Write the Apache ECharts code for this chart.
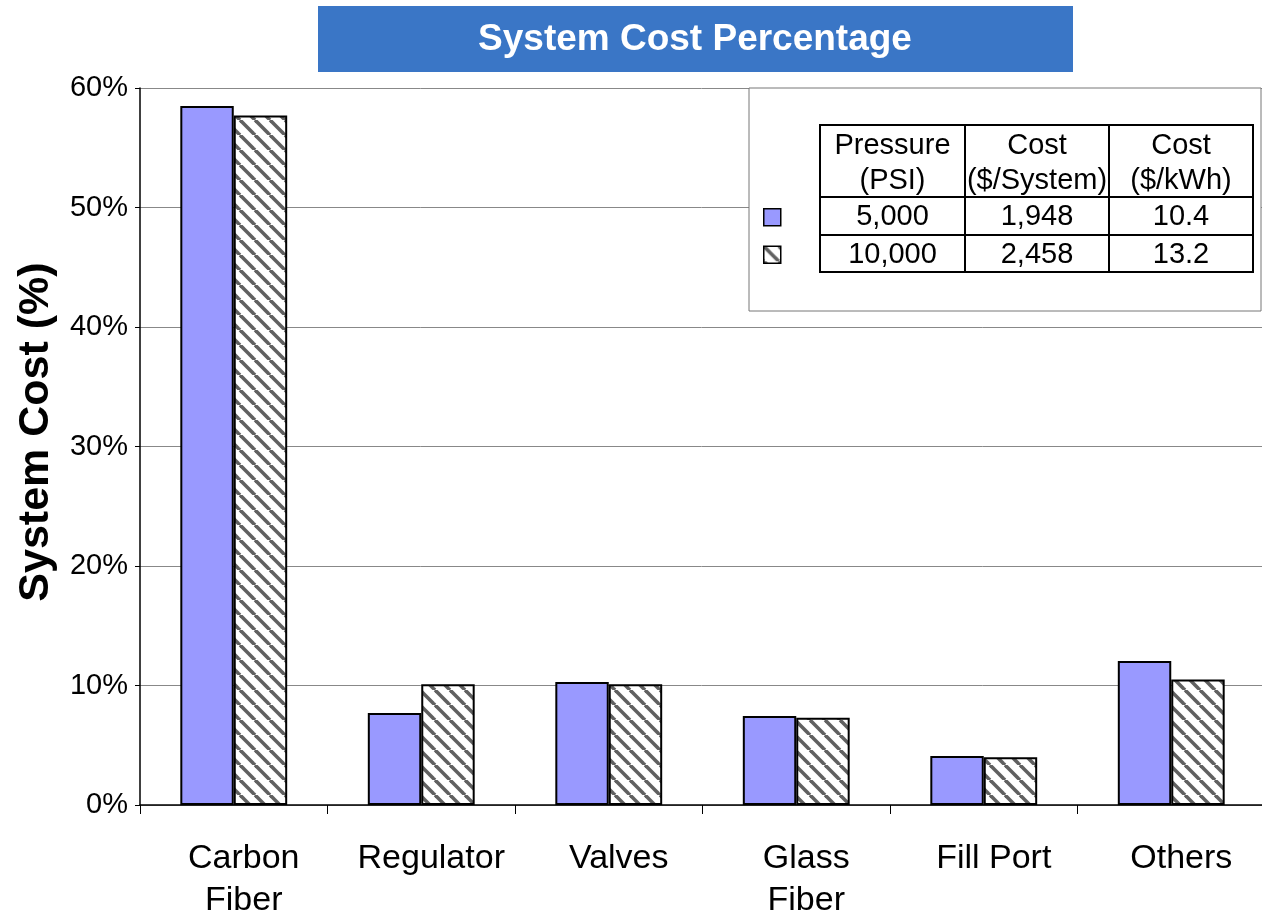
<!DOCTYPE html>
<html>
<head>
<meta charset="utf-8">
<script src="https://cdn.jsdelivr.net/npm/echarts@6/dist/echarts.min.js"></script>
<style>
  html, body { margin: 0; padding: 0; background: #fff; }
  #chart { width: 1262px; height: 916px; }
</style>
</head>
<body>
<div id="chart"></div>
<script>
const categories = ["Carbon\nFiber", "Regulator", "Valves", "Glass\nFiber", "Fill Port", "Others"];
const psi5000 = [58.5, 7.7, 10.3, 7.45, 4.1, 12.05];
const psi10000 = [57.7, 10.1, 10.1, 7.3, 4.0, 10.5];
const seriesNames = ["5,000 PSI", "10,000 PSI"];
const tableHeader = [["Pressure", "(PSI)"], ["Cost", "($/System)"], ["Cost", "($/kWh)"]];
const tableRows = [["5,000", "1,948", "10.4"], ["10,000", "2,458", "13.2"]];

const FONT = "Liberation Sans, Arial, sans-serif";

// diagonal hatch tile for the 10,000 psi bars
const makeHatch = () => {
  const size = 15;
  const c = document.createElement("canvas");
  c.width = size; c.height = size;
  const ctx = c.getContext("2d");
  ctx.fillStyle = "#fff";
  ctx.fillRect(0, 0, size, size);
  ctx.strokeStyle = "#606060";
  ctx.lineWidth = 3.6;
  for (const off of [-size, 0, size]) {
    ctx.beginPath();
    ctx.moveTo(off, 0);
    ctx.lineTo(off + size, size);
    ctx.stroke();
  }
  return c;
};

// legend table drawn as graphic elements
const colX = [820, 965, 1109, 1253];
const rowY = [125, 197, 235, 272];
const tableGraphics = [];
tableGraphics.push({ type: "rect", shape: { x: 749, y: 88, width: 512, height: 223 }, style: { fill: "#fff", stroke: "#777", lineWidth: 1 }, z: 10 });
for (let c = 0; c < 3; c++) {
  for (let r = 0; r < 3; r++) {
    tableGraphics.push({ type: "rect", shape: { x: colX[c], y: rowY[r], width: colX[c + 1] - colX[c], height: rowY[r + 1] - rowY[r] }, style: { fill: "none", stroke: "#000", lineWidth: 2 }, z: 11 });
  }
  const cx = (colX[c] + colX[c + 1]) / 2;
  tableGraphics.push({ type: "text", x: cx, y: 146, style: { text: tableHeader[c][0], font: "29px " + FONT, fill: "#000", align: "center", verticalAlign: "middle" }, z: 12 });
  tableGraphics.push({ type: "text", x: cx, y: 181, style: { text: tableHeader[c][1], font: "29px " + FONT, fill: "#000", align: "center", verticalAlign: "middle" }, z: 12 });
  tableRows.forEach((row, i) => {
    tableGraphics.push({ type: "text", x: cx, y: (rowY[i + 1] + rowY[i + 2]) / 2 + 1, style: { text: row[c], font: "29px " + FONT, fill: "#000", align: "center", verticalAlign: "middle" }, z: 12 });
  });
}

const chart = echarts.init(document.getElementById("chart"), null, { renderer: "canvas" });
chart.setOption({
  animation: false,
  backgroundColor: "#fff",
  graphic: [
    { type: "rect", shape: { x: 318, y: 6, width: 755, height: 66 }, style: { fill: "#3a76c6" }, z: 5 },
    { type: "text", x: 695, y: 40, style: { text: "System Cost Percentage", font: "bold 37px " + FONT, fill: "#fff", align: "center", verticalAlign: "middle" }, z: 6 },
    { type: "text", x: 36, y: 432, rotation: Math.PI / 2, style: { text: "System Cost (%)", font: "bold 43px " + FONT, fill: "#000", align: "center", verticalAlign: "middle" }, z: 6 },
    ...tableGraphics
  ],
  legend: {
    orient: "vertical",
    left: 758, top: 203,
    itemWidth: 17, itemHeight: 17, itemGap: 19,
    icon: "rect",
    formatter: () => "",
    itemStyle: { borderColor: "#000", borderWidth: 1.5 },
    selectedMode: false,
    z: 20
  },
  grid: { left: 140, top: 88, width: 1125, bottom: 111, outerBoundsMode: "none" },
  xAxis: {
    type: "category",
    data: categories,
    axisLine: { lineStyle: { color: "#000", width: 1.5 } },
    axisTick: { show: true, interval: 0, length: 9, lineStyle: { color: "#000", width: 1 } },
    axisLabel: { interval: 0, color: "#000", fontSize: 34, fontFamily: FONT, margin: 33, lineHeight: 42, padding: [0, 0, 0, 20] }
  },
  yAxis: {
    type: "value",
    min: 0, max: 60, interval: 10,
    axisLine: { show: true, lineStyle: { color: "#000", width: 1.5 } },
    axisTick: { show: true, length: 5, lineStyle: { color: "#000" } },
    axisLabel: { color: "#000", fontSize: 29, fontFamily: FONT, margin: 12, formatter: "{value}%" },
    splitLine: { lineStyle: { color: "#888", width: 1 } }
  },
  series: [
    {
      name: seriesNames[0], type: "bar", data: psi5000,
      barCategoryGap: "43%", barGap: "0%",
      itemStyle: { color: "#9999ff", borderColor: "#000", borderWidth: 2 }
    },
    {
      name: seriesNames[1], type: "bar", data: psi10000,
      barCategoryGap: "43%", barGap: "0%",
      itemStyle: { color: { image: makeHatch(), repeat: "repeat" }, borderColor: "#000", borderWidth: 2 }
    }
  ]
});
</script>
</body>
</html>
